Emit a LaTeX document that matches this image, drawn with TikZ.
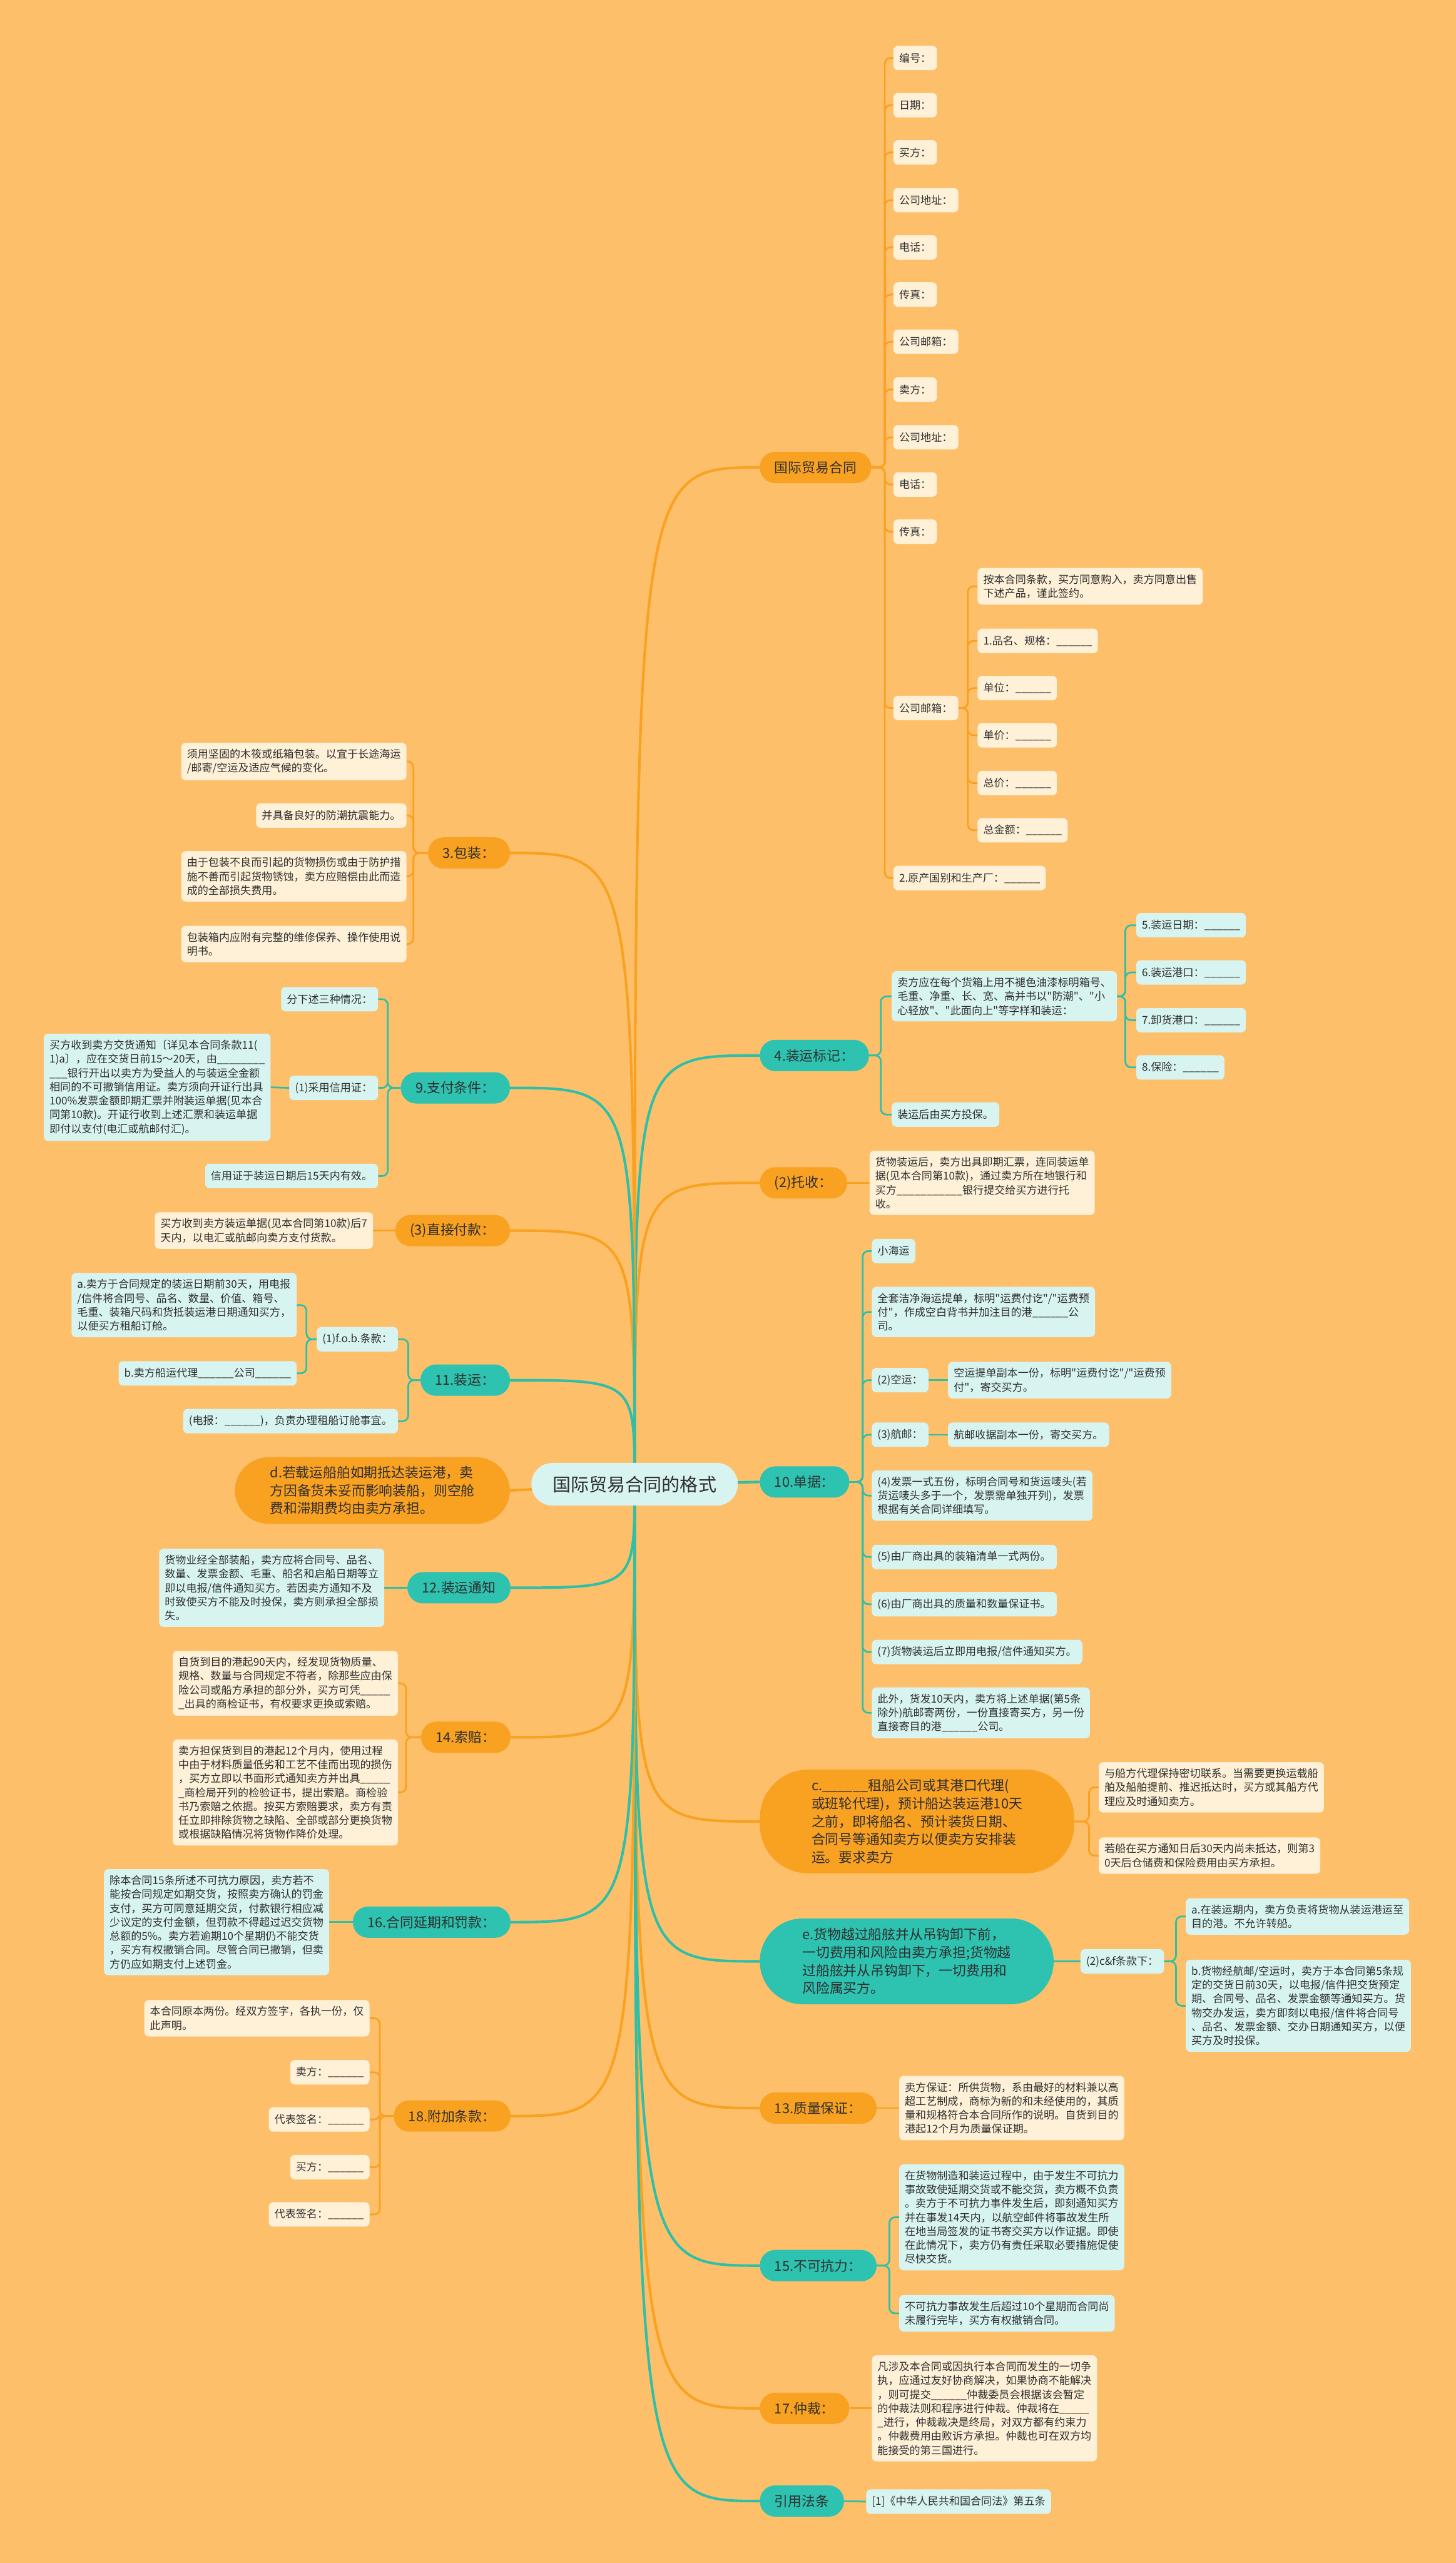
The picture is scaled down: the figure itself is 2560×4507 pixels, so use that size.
\documentclass[tikz,border=0pt]{standalone}
\usepackage{fontspec}
\setmainfont{Noto Sans CJK SC}[Ligatures=TeXOff]
\usetikzlibrary{backgrounds}

\definecolor{bgcol}{HTML}{FDBF6A}
\definecolor{brorange}{HTML}{F9A121}
\definecolor{brteal}{HTML}{2EC2B0}
\definecolor{leafcream}{HTML}{FFF1D8}
\definecolor{leafcyan}{HTML}{D8F4F1}
\definecolor{lnorange}{HTML}{F9A121}
\definecolor{lnteal}{HTML}{2EBFA9}
\definecolor{txt}{HTML}{2E2E2E}

\newcommand{\leaffont}{\fontsize{18.8pt}{24.5pt}\selectfont}
\newcommand{\brfont}{\fontsize{24pt}{31.5pt}\selectfont}
\newcommand{\rootfont}{\fontsize{32pt}{40pt}\selectfont}
\newcommand{\fillin}{\_\_\_\_\_\_}

\begin{document}
\begin{tikzpicture}[x=1pt, y=-1pt,
	rootbox/.style={fill=leafcyan, text=txt, font=\rootfont, rounded corners=37pt, minimum width=363pt, minimum height=75pt},
	obr/.style={fill=brorange, text=txt, font=\brfont, rounded corners=27pt, minimum height=55pt, inner xsep=26pt},
	tbr/.style={obr, fill=brteal},
	oleaf/.style={fill=leafcream, text=txt, font=\leaffont, align=left, rounded corners=8pt, minimum height=43pt, inner xsep=10pt, inner ysep=11pt},
	tleaf/.style={oleaf, fill=leafcyan},
	obig/.style={fill=brorange, text=txt, font=\brfont, align=left, inner ysep=17pt},
	tbig/.style={obig, fill=brteal},
	oline/.style={draw=lnorange, line width=3pt, rounded corners=10pt},
	tline/.style={draw=lnteal, line width=3pt, rounded corners=10pt},
	omain/.style={draw=lnorange, line width=4.5pt},
	tmain/.style={draw=lnteal, line width=4.5pt}]
	\useasboundingbox (0,0) rectangle (2560,4507);

	\node[rootbox] (root) at (1116,2610) {国际贸易合同的格式};

	% right side
	\node[obr, anchor=west] (htong) at (1336,822) {国际贸易合同};
	\foreach \n/\y/\lbl in {hbh/102/编号：, hrq/185/日期：, hmf/268/买方：, hdz1/352/公司地址：, hdh1/435/电话：, hcz1/518/传真：, hyx1/601/公司邮箱：, hmaif/685/卖方：, hdz2/769/公司地址：, hdh2/852/电话：, hcz2/935/传真：}
		\node[oleaf, anchor=west] (\n) at (1571,\y) {\lbl};
	\node[oleaf, anchor=west] (hyx2) at (1571,1245) {公司邮箱：};
	\node[oleaf, anchor=west] (hycd) at (1571,1544) {2.原产国别和生产厂：\fillin};
	\node[oleaf, anchor=west] (pjs) at (1719,1031) {按本合同条款，买方同意购入，卖方同意出售\\下述产品，谨此签约。};
	\foreach \n/\y/\lbl in {ppm/1127/1.品名、规格：\fillin, pdw/1210/单位：\fillin, pdj/1293/单价：\fillin, pzj/1377/总价：\fillin, pze/1460/总金额：\fillin}
		\node[oleaf, anchor=west] (\n) at (1719,\y) {\lbl};

	\node[tbr, anchor=west] (bzbj) at (1336,1856) {4.装运标记：};
	\node[tleaf, anchor=west] (bjsm) at (1568,1752) {卖方应在每个货箱上用不褪色油漆标明箱号、\\毛重、净重、长、宽、高并书以"防潮"、"小\\心轻放"、"此面向上"等字样和装运：};
	\node[tleaf, anchor=west] (bjtb) at (1568,1960) {装运后由买方投保。};
	\foreach \n/\y/\lbl in {bjrq/1627/5.装运日期：\fillin, bjgk/1710/6.装运港口：\fillin, bjxh/1794/7.卸货港口：\fillin, bjbx/1877/8.保险：\fillin}
		\node[tleaf, anchor=west] (\n) at (1998,\y) {\lbl};

	\node[obr, anchor=west] (tshou) at (1336,2080) {(2)托收：};
	\node[oleaf, anchor=west] (tshx) at (1529,2080) {货物装运后，卖方出具即期汇票，连同装运单\\据(见本合同第10款)，通过卖方所在地银行和\\买方\_\_\_\_\_\_\_\_\_\_\_银行提交给买方进行托\\收。};

	\node[tbr, anchor=west] (djd) at (1336,2606) {10.单据：};
	\node[tleaf, anchor=west] (dxh) at (1533,2200) {小海运};
	\node[tleaf, anchor=west] (dqt) at (1533,2307) {全套洁净海运提单，标明"运费付讫"/"运费预\\付"，作成空白背书并加注目的港\fillin 公\\司。};
	\node[tleaf, anchor=west] (dky) at (1533,2427) {(2)空运：};
	\node[tleaf, anchor=west] (dkyx) at (1667,2427) {空运提单副本一份，标明"运费付讫"/"运费预\\付"，寄交买方。};
	\node[tleaf, anchor=west] (dhy) at (1533,2523) {(3)航邮：};
	\node[tleaf, anchor=west] (dhyx) at (1667,2523) {航邮收据副本一份，寄交买方。};
	\node[tleaf, anchor=west] (dfp) at (1533,2630) {(4)发票一式五份，标明合同号和货运唛头(若\\货运唛头多于一个，发票需单独开列)，发票\\根据有关合同详细填写。};
	\node[tleaf, anchor=west] (dzx) at (1533,2738) {(5)由厂商出具的装箱清单一式两份。};
	\node[tleaf, anchor=west] (dzl) at (1533,2821) {(6)由厂商出具的质量和数量保证书。};
	\node[tleaf, anchor=west] (dtz) at (1533,2905) {(7)货物装运后立即用电报/信件通知买方。};
	\node[tleaf, anchor=west] (dcw) at (1533,3012) {此外，货发10天内，卖方将上述单据(第5条\\除外)航邮寄两份，一份直接寄买方，另一份\\直接寄目的港\fillin 公司。};

	\node[obig, anchor=west, inner xsep=91pt, rounded corners=85pt] (czc) at (1336,3203) {c.\fillin 租船公司或其港口代理(\\或班轮代理)，预计船达装运港10天\\之前，即将船名、预计装货日期、\\合同号等通知卖方以便卖方安排装\\运。要求卖方};
	\node[oleaf, anchor=west] (czc1) at (1932,3143) {与船方代理保持密切联系。当需要更换运载船\\舶及船舶提前、推迟抵达时，买方或其船方代\\理应及时通知卖方。};
	\node[oleaf, anchor=west] (czc2) at (1932,3263) {若船在买方通知日后30天内尚未抵达，则第3\\0天后仓储费和保险费用由买方承担。};

	\node[tbig, anchor=west, inner xsep=75pt, rounded corners=75pt] (ehw) at (1336,3449) {e.货物越过船舷并从吊钩卸下前，\\一切费用和风险由卖方承担;货物越\\过船舷并从吊钩卸下，一切费用和\\风险属买方。};
	\node[tleaf, anchor=west] (ecf) at (1900,3449) {(2)c\&f条款下：};
	\node[tleaf, anchor=west] (ecfa) at (2085,3370) {a.在装运期内，卖方负责将货物从装运港运至\\目的港。不允许转船。};
	\node[tleaf, anchor=west] (ecfb) at (2085,3527) {b.货物经航邮/空运时，卖方于本合同第5条规\\定的交货日前30天，以电报/信件把交货预定\\期、合同号、品名、发票金额等通知买方。货\\物交办发运，卖方即刻以电报/信件将合同号\\、品名、发票金额、交办日期通知买方，以便\\买方及时投保。};

	\node[obr, anchor=west] (zlbz) at (1336,3707) {13.质量保证：};
	\node[oleaf, anchor=west] (zlbzx) at (1581,3707) {卖方保证：所供货物，系由最好的材料兼以高\\超工艺制成，商标为新的和未经使用的，其质\\量和规格符合本合同所作的说明。自货到目的\\港起12个月为质量保证期。};

	\node[tbr, anchor=west] (bkkl) at (1336,3984) {15.不可抗力：};
	\node[tleaf, anchor=west] (bkkl1) at (1581,3899) {在货物制造和装运过程中，由于发生不可抗力\\事故致使延期交货或不能交货，卖方概不负责\\。卖方于不可抗力事件发生后，即刻通知买方\\并在事发14天内，以航空邮件将事故发生所\\在地当局签发的证书寄交买方以作证据。即使\\在此情况下，卖方仍有责任采取必要措施促使\\尽快交货。};
	\node[tleaf, anchor=west] (bkkl2) at (1581,4068) {不可抗力事故发生后超过10个星期而合同尚\\未履行完毕，买方有权撤销合同。};

	\node[obr, anchor=west] (zcai) at (1336,4235) {17.仲裁：};
	\node[oleaf, anchor=west] (zcaix) at (1533,4235) {凡涉及本合同或因执行本合同而发生的一切争\\执，应通过友好协商解决，如果协商不能解决\\，则可提交\fillin 仲裁委员会根据该会暂定\\的仲裁法则和程序进行仲裁。仲裁将在\_\_\_\_\_\\\_进行，仲裁裁决是终局，对双方都有约束力\\。仲裁费用由败诉方承担。仲裁也可在双方均\\能接受的第三国进行。};

	\node[tbr, anchor=west] (yyft) at (1336,4398) {引用法条};
	\node[tleaf, anchor=west] (yyftx) at (1523,4399) {[1]《中华人民共和国合同法》第五条};

	% left side
	\node[obr, anchor=east] (bzh) at (897,1500) {3.包装：};
	\node[oleaf, anchor=east] (bzh1) at (715,1339) {须用坚固的木筱或纸箱包装。以宜于长途海运\\/邮寄/空运及适应气候的变化。};
	\node[oleaf, anchor=east] (bzh2) at (715,1434) {并具备良好的防潮抗震能力。};
	\node[oleaf, anchor=east] (bzh3) at (715,1541) {由于包装不良而引起的货物损伤或由于防护措\\施不善而引起货物锈蚀，卖方应赔偿由此而造\\成的全部损失费用。};
	\node[oleaf, anchor=east] (bzh4) at (715,1660) {包装箱内应附有完整的维修保养、操作使用说\\明书。};

	\node[tbr, anchor=east] (zftj) at (897,1913) {9.支付条件：};
	\node[tleaf, anchor=east] (zf1) at (665,1757) {分下述三种情况：};
	\node[tleaf, anchor=east] (zfxyz) at (665,1913) {(1)采用信用证：};
	\node[tleaf, anchor=east] (zfxyzx) at (476,1912) {买方收到卖方交货通知〔详见本合同条款11(\\1)a〕，应在交货日前15～20天，由\_\_\_\_\_\_\_\_\\\_\_\_银行开出以卖方为受益人的与装运全金额\\相同的不可撤销信用证。卖方须向开证行出具\\100\%发票金额即期汇票并附装运单据(见本合\\同第10款)。开证行收到上述汇票和装运单据\\即付以支付(电汇或航邮付汇)。};
	\node[tleaf, anchor=east] (zf3) at (665,2068) {信用证于装运日期后15天内有效。};

	\node[obr, anchor=east] (zjfk) at (897,2164) {(3)直接付款：};
	\node[oleaf, anchor=east] (zjfkx) at (656,2164) {买方收到卖方装运单据(见本合同第10款)后7\\天内，以电汇或航邮向卖方支付货款。};

	\node[tbr, anchor=east] (zyun) at (897,2427) {11.装运：};
	\node[tleaf, anchor=east] (fob) at (700,2355) {(1)f.o.b.条款：};
	\node[tleaf, anchor=east] (foba) at (522,2295) {a.卖方于合同规定的装运日期前30天，用电报\\/信件将合同号、品名、数量、价值、箱号、\\毛重、装箱尺码和货抵装运港日期通知买方，\\以便买方租船订舱。};
	\node[tleaf, anchor=east] (fobb) at (522,2415) {b.卖方船运代理\fillin 公司\fillin};
	\node[tleaf, anchor=east] (zydb) at (700,2499) {(电报：\fillin)，负责办理租船订舱事宜。};

	\node[obig, anchor=east, inner xsep=62pt, inner ysep=16pt, rounded corners=60pt] (dzai) at (897,2621) {d.若载运船舶如期抵达装运港，卖\\方因备货未妥而影响装船，则空舱\\费和滞期费均由卖方承担。};

	\node[tbr, anchor=east] (zytz) at (898,2792) {12.装运通知};
	\node[tleaf, anchor=east] (zytzx) at (676,2792) {货物业经全部装船，卖方应将合同号、品名、\\数量、发票金额、毛重、船名和启船日期等立\\即以电报/信件通知买方。若因卖方通知不及\\时致使买方不能及时投保，卖方则承担全部损\\失。};

	\node[obr, anchor=east] (spei) at (898,3055) {14.索赔：};
	\node[oleaf, anchor=east] (spei1) at (700,2960) {自货到目的港起90天内，经发现货物质量、\\规格、数量与合同规定不符者，除那些应由保\\险公司或船方承担的部分外，买方可凭\_\_\_\_\_\\\_出具的商检证书，有权要求更换或索赔。};
	\node[oleaf, anchor=east] (spei2) at (700,3152) {卖方担保货到目的港起12个月内，使用过程\\中由于材料质量低劣和工艺不佳而出现的损伤\\，买方立即以书面形式通知卖方并出具\_\_\_\_\_\\\_商检局开列的检验证书，提出索赔。商检验\\书乃索赔之依据。按买方索赔要求，卖方有责\\任立即排除货物之缺陷、全部或部分更换货物\\或根据缺陷情况将货物作降价处理。};

	\node[tbr, anchor=east] (yqfk) at (898,3380) {16.合同延期和罚款：};
	\node[tleaf, anchor=east] (yqfkx) at (579,3380) {除本合同15条所述不可抗力原因，卖方若不\\能按合同规定如期交货，按照卖方确认的罚金\\支付，买方可同意延期交货，付款银行相应减\\少议定的支付金额，但罚款不得超过迟交货物\\总额的5\%。卖方若逾期10个星期仍不能交货\\，买方有权撤销合同。尽管合同已撤销，但卖\\方仍应如期支付上述罚金。};

	\node[obr, anchor=east] (fjtk) at (898,3721) {18.附加条款：};
	\node[oleaf, anchor=east] (fj1) at (650,3549) {本合同原本两份。经双方签字，各执一份，仅\\此声明。};
	\foreach \n/\y/\lbl in {fjmf/3644/卖方：\fillin, fjqm1/3727/代表签名：\fillin, fjbuy/3811/买方：\fillin, fjqm2/3894/代表签名：\fillin}
		\node[oleaf, anchor=east] (\n) at (650,\y) {\lbl};

	\begin{scope}[on background layer]
		\fill[bgcol] (0,0) rectangle (2560,4507);
		% root to branches
		\foreach \b in {htong,tshou,czc,zlbz,zcai}
			\draw[omain] (root.center) .. controls (root.center |- \b.west) .. (\b.west);
		\foreach \b in {bzbj,ehw,bkkl,yyft}
			\draw[tmain] (root.center) .. controls (root.center |- \b.west) .. (\b.west);
		\draw[tmain] (root.center) -- (djd.west);
		\foreach \b in {bzh,zjfk,spei,fjtk}
			\draw[omain] (root.center) .. controls (root.center |- \b.east) .. (\b.east);
		\foreach \b in {zftj,zyun,zytz,yqfk}
			\draw[tmain] (root.center) .. controls (root.center |- \b.east) .. (\b.east);
		\draw[omain] (root.center) -- (dzai.east);
		% right side
		\foreach \c in {hbh,hrq,hmf,hdz1,hdh1,hcz1,hyx1,hmaif,hdz2,hdh2,hcz2,hyx2,hycd}
			\draw[oline] (\c.west) -- ++(-15,0) |- (htong.east);
		\foreach \c in {pjs,ppm,pdw,pdj,pzj,pze}
			\draw[oline] (\c.west) -- ++(-17,0) |- (hyx2.east);
		\foreach \c in {bjsm,bjtb}
			\draw[tline] (\c.west) -- ++(-19,0) |- (bzbj.east);
		\foreach \c in {bjrq,bjgk,bjxh,bjbx}
			\draw[tline] (\c.west) -- ++(-19,0) |- (bjsm.east);
		\draw[oline] (tshou.east) -- (tshx.west);
		\foreach \c in {dxh,dqt,dky,dhy,dfp,dzx,dzl,dtz,dcw}
			\draw[tline] (\c.west) -- ++(-16,0) |- (djd.east);
		\draw[tline] (dky.east) -- (dkyx.west);
		\draw[tline] (dhy.east) -- (dhyx.west);
		\foreach \c in {czc1,czc2}
			\draw[oline] (\c.west) -- ++(-17,0) |- (czc.east);
		\draw[tline] (ehw.east) -- (ecf.west);
		\foreach \c in {ecfa,ecfb}
			\draw[tline] (\c.west) -- ++(-17,0) |- (ecf.east);
		\draw[oline] (zlbz.east) -- (zlbzx.west);
		\foreach \c in {bkkl1,bkkl2}
			\draw[tline] (\c.west) -- ++(-17,0) |- (bkkl.east);
		\draw[oline] (zcai.east) -- (zcaix.west);
		\draw[tline] (yyft.east) -- (yyftx.west);
		% left side
		\foreach \c in {bzh1,bzh2,bzh3,bzh4}
			\draw[oline] (\c.east) -- ++(12,0) |- (bzh.west);
		\foreach \c in {zf1,zfxyz,zf3}
			\draw[tline] (\c.east) -- ++(17,0) |- (zftj.west);
		\draw[tline] (zfxyzx.east) -- (zfxyz.west);
		\draw[oline] (zjfkx.east) -- (zjfk.west);
		\foreach \c in {fob,zydb}
			\draw[tline] (\c.east) -- ++(18,0) |- (zyun.west);
		\foreach \c in {foba,fobb}
			\draw[tline] (\c.east) -- ++(17,0) |- (fob.west);
		\draw[tline] (zytzx.east) -- (zytz.west);
		\foreach \c in {spei1,spei2}
			\draw[oline] (\c.east) -- ++(14,0) |- (spei.west);
		\draw[tline] (yqfkx.east) -- (yqfk.west);
		\foreach \c in {fj1,fjmf,fjqm1,fjbuy,fjqm2}
			\draw[oline] (\c.east) -- ++(18,0) |- (fjtk.west);
	\end{scope}
\end{tikzpicture}
\end{document}
